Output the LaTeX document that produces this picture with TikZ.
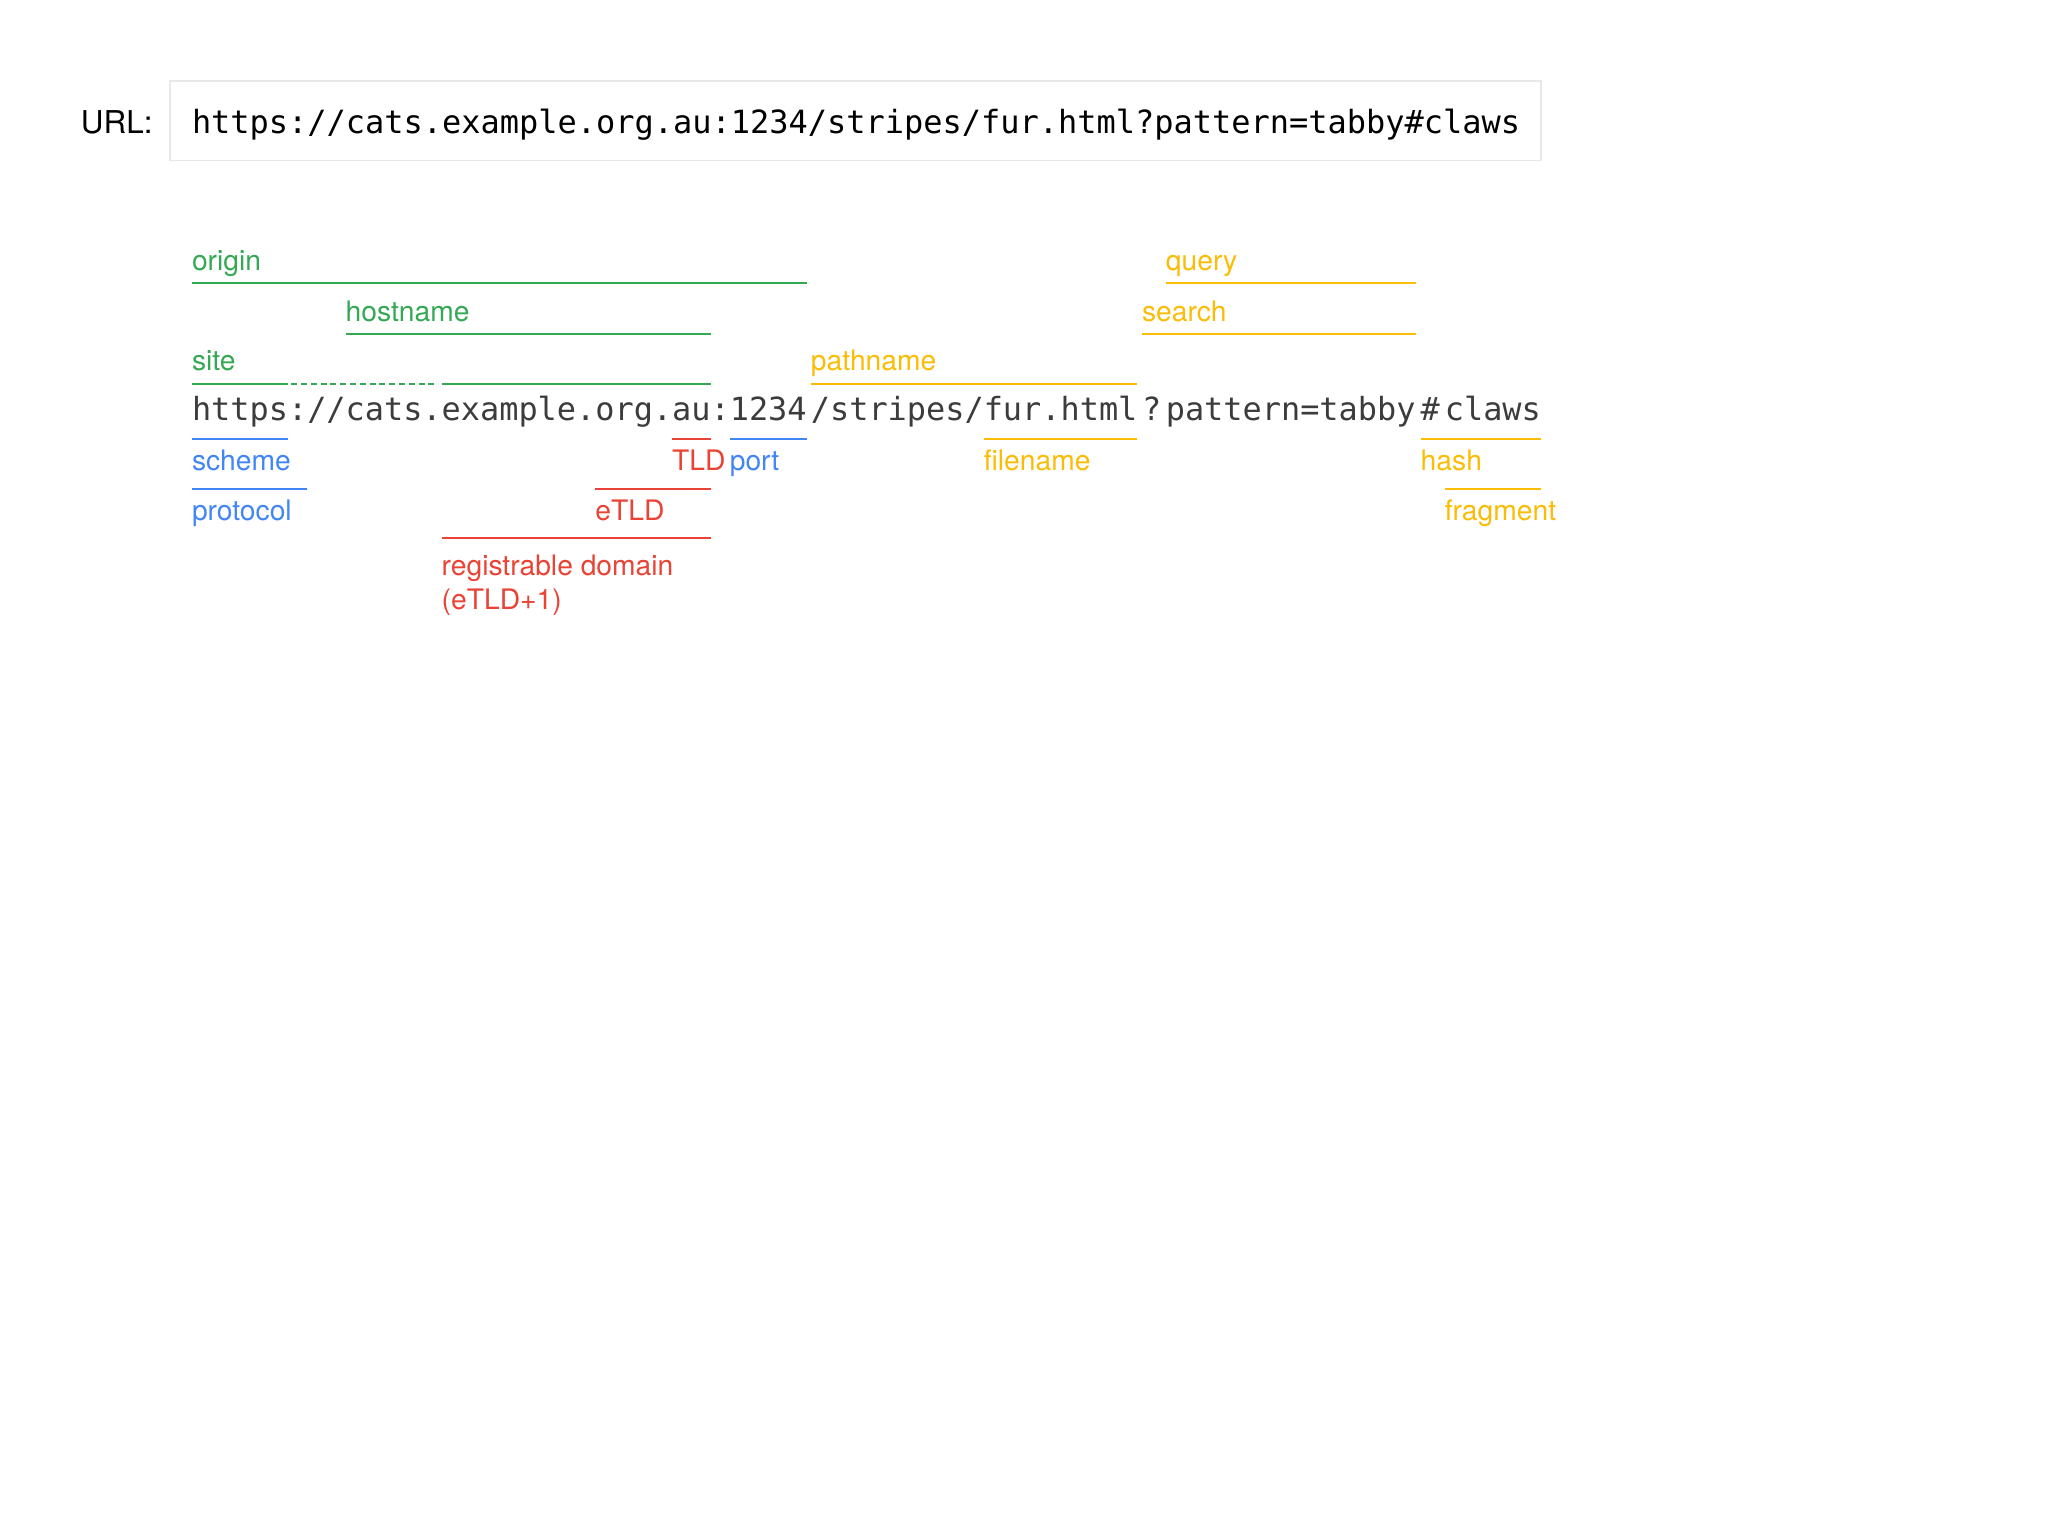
\documentclass[tikz,border=0pt]{standalone}
\usepackage{fontspec}
\setmainfont{TeX Gyre Heros}
\setmonofont{DejaVu Sans Mono}
\usetikzlibrary{positioning}
\definecolor{urlgreen}{HTML}{34A853}
\definecolor{urlblue}{HTML}{4285F4}
\definecolor{urlred}{HTML}{EA4335}
\definecolor{urlyellow}{HTML}{FBBC05}
\definecolor{urlgray}{HTML}{3C3C3C}
\definecolor{boxline}{HTML}{E8E8E8}

\begin{document}
\begin{tikzpicture}[x=0.2mm, y=-0.2mm,
every node/.style = {inner sep=0pt, outer sep=0pt},
parttag/.style = {font=\fontsize{12.3}{14.8}\selectfont, align=left, pos=0, anchor=base west},
above tag/.style = {parttag, yshift=2.0mm},
below tag/.style = {parttag, yshift=-4.8mm},
part/.style = {line width=0.3mm},
urltext/.style = {anchor=base west, font=\ttfamily\fontsize{13.9}{16}\selectfont, text=urlgray},
next/.style = {urltext, right=#1 of \prevpiece.base east, anchor=base west}
]
\useasboundingbox (0,0) rectangle (1568,1176);

\node (urlname) [anchor=base west, font=\fontsize{13.7}{16}\selectfont] at (62,102) {URL:};
\draw [boxline, line width=0.25mm] (130,62) rectangle (1180,123);
\node (urlbox) [anchor=base west, font=\ttfamily\fontsize{13.93}{16}\selectfont] at (147,102)
  {https://cats.example.org.au:1234/stripes/fur.html?pattern=tabby\#claws};

\node (uscheme) [urltext] at (147,322) {https};
\def\prevpiece{uscheme}
\foreach \piece/\txt/\gap in {ucolon/:/0pt, uslashes/{//}/0pt, usub/cats./0pt,
    udomain/example./0pt, uorg/org./0pt, utld/au/0pt, uportsep/:/0pt, uport/1234/0pt,
    udir/{/stripes/}/0.65mm, ufile/fur.html/0pt, uqmark/?/0.7mm,
    uquery/pattern=tabby/0.7mm, uhashmark/\#/0.8mm, ufrag/claws/0.75mm} {
  \node (\piece) [next=\gap] {\txt};
  \xdef\prevpiece{\piece}
}

\foreach \r/\y in {1/217, 2/256, 3/294, 4/336, 5/374.3, 6/412}
  \coordinate (r\r) at (0,\y);

\draw [part, urlgreen] (uscheme.west |- r1) -- (uport.east |- r1) node [above tag] (origin) {origin};
\draw [part, urlgreen] (usub.west |- r2) -- (utld.east |- r2) node [above tag] (hostname) {hostname};
\draw [part, urlgreen] (uscheme.west |- r3) -- (uscheme.east |- r3) node [above tag] (site) {site};
\draw [part, urlgreen, dash pattern=on 0.9mm off 0.6mm, shorten <=0.5mm, shorten >=0.6mm]
  (ucolon.west |- r3) -- (usub.east |- r3);
\draw [part, urlgreen] (udomain.west |- r3) -- (utld.east |- r3);

\draw [part, urlyellow] (uquery.west |- r1) -- (uquery.east |- r1) node [above tag] (query) {query};
\draw [part, urlyellow] (uqmark.west |- r2) -- (uquery.east |- r2) node [above tag] (search) {search};
\draw [part, urlyellow] (udir.west |- r3) -- (ufile.east |- r3) node [above tag] (pathname) {pathname};

\draw [part, urlblue] (uscheme.west |- r4) -- (uscheme.east |- r4) node [below tag] (scheme) {scheme};
\draw [part, urlblue] (uscheme.west |- r5) -- (ucolon.east |- r5) node [below tag] (protocol) {protocol};
\draw [part, urlblue] (uport.west |- r4) -- (uport.east |- r4) node [below tag] (port) {port};

\draw [part, urlred] (utld.west |- r4) -- (utld.east |- r4) node [below tag] (tld) {TLD};
\draw [part, urlred] (uorg.west |- r5) -- (utld.east |- r5) node [below tag] (etld) {eTLD};
\draw [part, urlred] (udomain.west |- r6) -- (utld.east |- r6) node [below tag, yshift=-6.1mm] (regdomain)
  {registrable domain\\(eTLD+1)};

\draw [part, urlyellow] (ufile.west |- r4) -- (ufile.east |- r4) node [below tag] (filename) {filename};
\draw [part, urlyellow] (uhashmark.west |- r4) -- (ufrag.east |- r4) node [below tag] (hash) {hash};
\draw [part, urlyellow] (ufrag.west |- r5) -- (ufrag.east |- r5) node [below tag] (fragment) {fragment};

\end{tikzpicture}
\end{document}
